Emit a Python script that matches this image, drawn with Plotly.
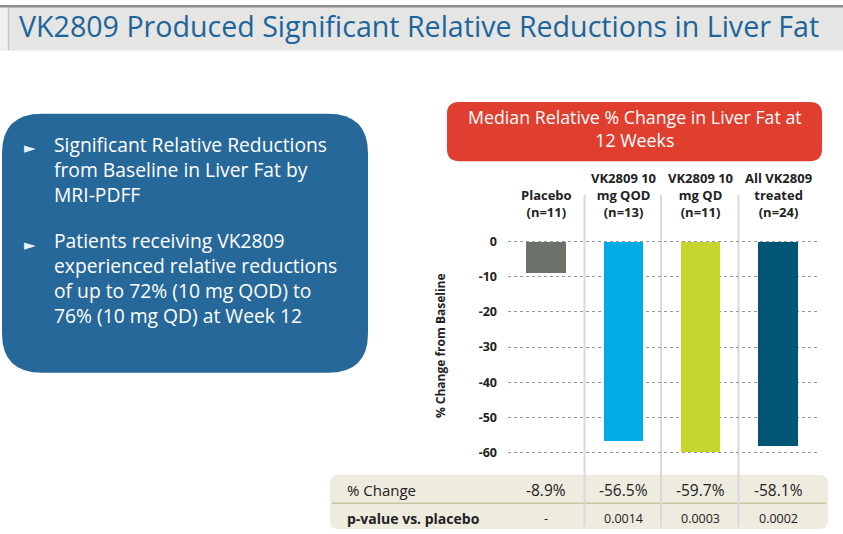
import plotly.graph_objects as go

W, H = 843, 534

categories = ["Placebo<br>(n=11)", "VK2809 10<br>mg QOD<br>(n=13)", "VK2809 10<br>mg QD<br>(n=11)", "All VK2809<br>treated<br>(n=24)"]
pct_change = [-8.9, -56.5, -59.7, -58.1]
pct_labels = ["-8.9%", "-56.5%", "-59.7%", "-58.1%"]
p_values = ["-", "0.0014", "0.0003", "0.0002"]
bar_colors = ["#6c726a", "#00abe6", "#c6d62e", "#005574"]
y_ticks = [0, -10, -20, -30, -40, -50, -60]

title_text = "VK2809 Produced Significant Relative Reductions in Liver Fat"
bullets = ["Significant Relative Reductions<br>from Baseline in Liver Fat by<br>MRI-PDFF",
           "Patients receiving VK2809<br>experienced relative reductions<br>of up to 72% (10 mg QOD) to<br>76% (10 mg QD) at Week 12"]
box_title = "Median Relative % Change in Liver Fat at<br>12 Weeks"

FONT = "Open Sans"

def px(x):
    return x / W

def py(y):
    return 1 - y / H

def rrect(x0, y0, x1, y1, r):
    pts = [
        ("M", x0 + r, y0), ("L", x1 - r, y0), ("Q", x1, y0, x1, y0 + r),
        ("L", x1, y1 - r), ("Q", x1, y1, x1 - r, y1), ("L", x0 + r, y1),
        ("Q", x0, y1, x0, y1 - r), ("L", x0, y0 + r), ("Q", x0, y0, x0 + r, y0)
    ]
    s = ""
    for p in pts:
        if p[0] in ("M", "L"):
            s += f"{p[0]}{px(p[1]):.5f},{py(p[2]):.5f} "
        else:
            s += f"Q{px(p[1]):.5f},{py(p[2]):.5f} {px(p[3]):.5f},{py(p[4]):.5f} "
    return s + "Z"

# y axis mapping: 0 at 239px, -60 at 453px
ppu = (453 - 239) / 60.0
y_top_val, y_bot_val = 1.0, -62.0
dom_top = py(239 - y_top_val * ppu)
dom_bot = py(239 - y_bot_val * ppu)

xs = list(range(len(categories)))

fig = go.Figure()
fig.add_trace(go.Bar(
    x=xs, y=pct_change, marker=dict(color=bar_colors, line=dict(width=0)),
    width=0.505, hoverinfo="skip", showlegend=False
))

shapes = []
# header band
shapes.append(dict(type="rect", xref="paper", yref="paper", x0=0, x1=1, y0=py(46), y1=1,
                   fillcolor="#e5e5e3", line=dict(width=0), layer="below"))
shapes.append(dict(type="rect", xref="paper", yref="paper", x0=0, x1=px(8), y0=py(46), y1=1,
                   fillcolor="#f0f0ef", line=dict(width=0), layer="below"))
shapes.append(dict(type="line", xref="paper", yref="paper", x0=px(8.5), x1=px(8.5), y0=py(46), y1=1,
                   line=dict(color="#c4c4c4", width=1.5), layer="below"))
shapes.append(dict(type="rect", xref="paper", yref="paper", x0=0, x1=1, y0=py(2.5), y1=1,
                   fillcolor="#8e8e8e", line=dict(width=0), layer="below"))
# left blue box
shapes.append(dict(type="path", xref="paper", yref="paper", path=rrect(2, 110, 368, 372, 40),
                   fillcolor="#27689a", line=dict(width=0), layer="below"))
# red box
shapes.append(dict(type="path", xref="paper", yref="paper", path=rrect(447, 98, 822, 158, 12),
                   fillcolor="#e03e2f", line=dict(width=0), layer="below"))
# table box
shapes.append(dict(type="path", xref="paper", yref="paper", path=rrect(330, 475, 828, 530, 9),
                   fillcolor="#eeebdf", line=dict(width=0), layer="below"))
shapes.append(dict(type="line", xref="paper", yref="paper", x0=px(332), x1=px(826), y0=py(504), y1=py(504),
                   line=dict(color="#c9c5a3", width=1.5), layer="below"))
# vertical separators
for xv in [584.5, 661, 738.5]:
    shapes.append(dict(type="line", xref="paper", yref="paper", x0=px(xv), x1=px(xv), y0=py(192), y1=py(528),
                       line=dict(color="#d9d9d9", width=2), layer="below"))

ann = []
ann.append(dict(text=title_text, x=px(418.5), y=py(0.5), xref="paper", yref="paper", showarrow=False,
                xanchor="center", yanchor="top", borderpad=0,
                font=dict(family=FONT, size=28.6, color="#1d649a")))
# bullets
for yb in [145, 243]:
    ann.append(dict(text="►", x=px(22), y=py(yb), xref="paper", yref="paper", showarrow=False,
                    xanchor="left", yanchor="middle", font=dict(family="DejaVu Sans", size=15, color="#e8f2fa")))
ann.append(dict(text=bullets[0], x=px(52), y=py(125), xref="paper", yref="paper", showarrow=False,
                xanchor="left", yanchor="top", align="left", font=dict(family=FONT, size=19.3, color="white")))
ann.append(dict(text=bullets[1], x=px(52), y=py(223), xref="paper", yref="paper", showarrow=False,
                xanchor="left", yanchor="top", align="left", font=dict(family=FONT, size=19.3, color="white")))
# red box title
ann.append(dict(text=box_title, x=px(635), y=py(125), xref="paper", yref="paper", showarrow=False,
                xanchor="center", yanchor="middle", align="center", font=dict(family=FONT, size=17.8, color="white")))
# column headers
for i, c in enumerate(categories):
    ann.append(dict(text="<b>" + c + "</b>", x=i, y=py(220), xref="x", yref="paper", showarrow=False,
                    xanchor="center", yanchor="bottom", align="center",
                    font=dict(family=FONT, size=13, color="#222222")))
# y axis title
ann.append(dict(text="<b>% Change from Baseline</b>", x=px(440), y=py(345), xref="paper", yref="paper",
                showarrow=False, textangle=-90, xanchor="center", yanchor="middle",
                font=dict(family=FONT, size=12, color="#222222")))
# table
ann.append(dict(text="% Change", x=px(345), y=py(491), xref="paper", yref="paper", showarrow=False,
                xanchor="left", yanchor="middle", font=dict(family=FONT, size=15, color="#222222")))
ann.append(dict(text="<b>p-value vs. placebo</b>", x=px(345), y=py(519), xref="paper", yref="paper", showarrow=False,
                xanchor="left", yanchor="middle", font=dict(family=FONT, size=14, color="#222222")))
for i in xs:
    ann.append(dict(text=pct_labels[i], x=i, y=py(491), xref="x", yref="paper", showarrow=False,
                    xanchor="center", yanchor="middle", font=dict(family=FONT, size=15.5, color="#222222")))
    ann.append(dict(text=p_values[i], x=i, y=py(519), xref="x", yref="paper", showarrow=False,
                    xanchor="center", yanchor="middle", font=dict(family=FONT, size=12.5, color="#222222")))

x_left = (508 - 546) / ((778 - 546) / 3)
x_right = (817 - 546) / ((778 - 546) / 3)

fig.update_layout(
    width=W, height=H, margin=dict(l=0, r=0, t=0, b=0),
    paper_bgcolor="white", plot_bgcolor="rgba(0,0,0,0)",
    shapes=shapes, annotations=ann, bargap=0,
    xaxis=dict(domain=[px(508), px(817)], range=[x_left, x_right], showticklabels=False,
               showgrid=False, zeroline=False, showline=False, fixedrange=True),
    yaxis=dict(domain=[dom_bot, dom_top], range=[y_bot_val, y_top_val], tickvals=y_ticks,
               ticktext=[f"<b>{v}</b>" for v in y_ticks], showgrid=True, gridcolor="#9a9a9a",
               griddash="dot", gridwidth=1, zeroline=False, showline=False, ticks="",
               ticklabelstandoff=10, tickfont=dict(family=FONT, size=12.5, color="#222222"),
               layer="below traces"),
)

fig.write_html("out.html")
